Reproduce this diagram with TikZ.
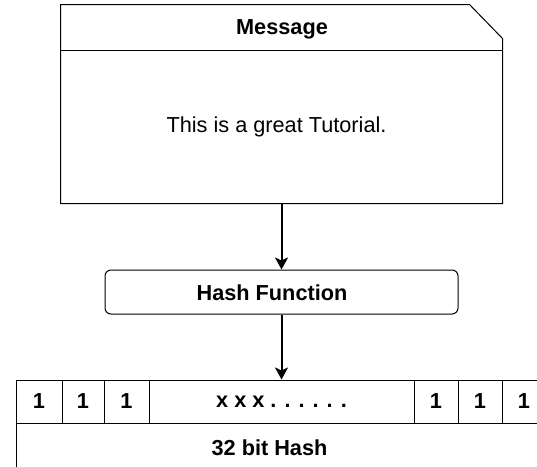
\documentclass[tikz,border=0pt]{standalone}
\usepackage{fontspec}
\setmainfont{Liberation Sans}
\usetikzlibrary{arrows.meta, positioning}

\begin{document}
\begin{tikzpicture}[
    x=1pt, y=-1pt,
    line width=1pt,
    font=\fontsize{21.7}{26}\selectfont,
    box/.style = {
        inner sep=0pt,
        minimum height=43pt
    },
    cell/.style = {
        draw,
        inner sep=0pt,
        minimum height=43pt,
        font=\fontsize{21.7}{26}\selectfont\bfseries
    },
    bold/.style = {
        font=\fontsize{21.7}{26}\selectfont\bfseries
    },
    myarrow/.style={
        line width=2pt,
        -{Stealth[width=13pt,length=12pt,inset=3pt]}
    }
]
  \useasboundingbox (0,0) rectangle (537,466);
  \clip (0,0) rectangle (537,466);

  % message box with cut corner
  \node[box, minimum width=441pt, minimum height=198pt] (msg) at (281.5,104) {};
  \draw (msg.south west) -- (msg.north west) -- ([xshift=-33pt]msg.north east)
        -- ([yshift=-34pt]msg.north east) -- (msg.south east) -- cycle;
  \draw (61,50) -- (502,50);
  \node[bold] (title) at (282,29) {Message};
  \node (text) at (276.5,127) {This is a great Tutorial.};

  \node[draw, rounded corners=6pt, minimum width=353pt, minimum height=44pt, inner sep=0pt] (hash) at (281.5,292) {};
  \node[bold] (hashtxt) at (272,293) {Hash Function};

  % hash bits
  \node[cell, minimum width=46pt] (b1) at (39,401.5) {1};
  \node[cell, minimum width=42pt] (b2) at (83,401.5) {1};
  \node[cell, minimum width=45pt] (b3) at (126.5,401.5) {1};
  \node[cell, minimum width=265pt] (bx) at (281.5,401.5) {x x x . . . . . .};
  \node[cell, minimum width=44pt] (b4) at (436,401.5) {1};
  \node[cell, minimum width=44pt] (b5) at (480,401.5) {1};
  \node[cell, minimum width=44pt] (b6) at (524,401.5) {1};
  \node[draw, minimum width=530pt, minimum height=60pt, inner sep=0pt] (row) at (281,453) {};
  \node[bold] (lbl) at (269.5,448) {32 bit Hash};

  \draw[myarrow] (msg) to (hash);
  \draw[myarrow] (hash) to (bx);
\end{tikzpicture}
\end{document}
